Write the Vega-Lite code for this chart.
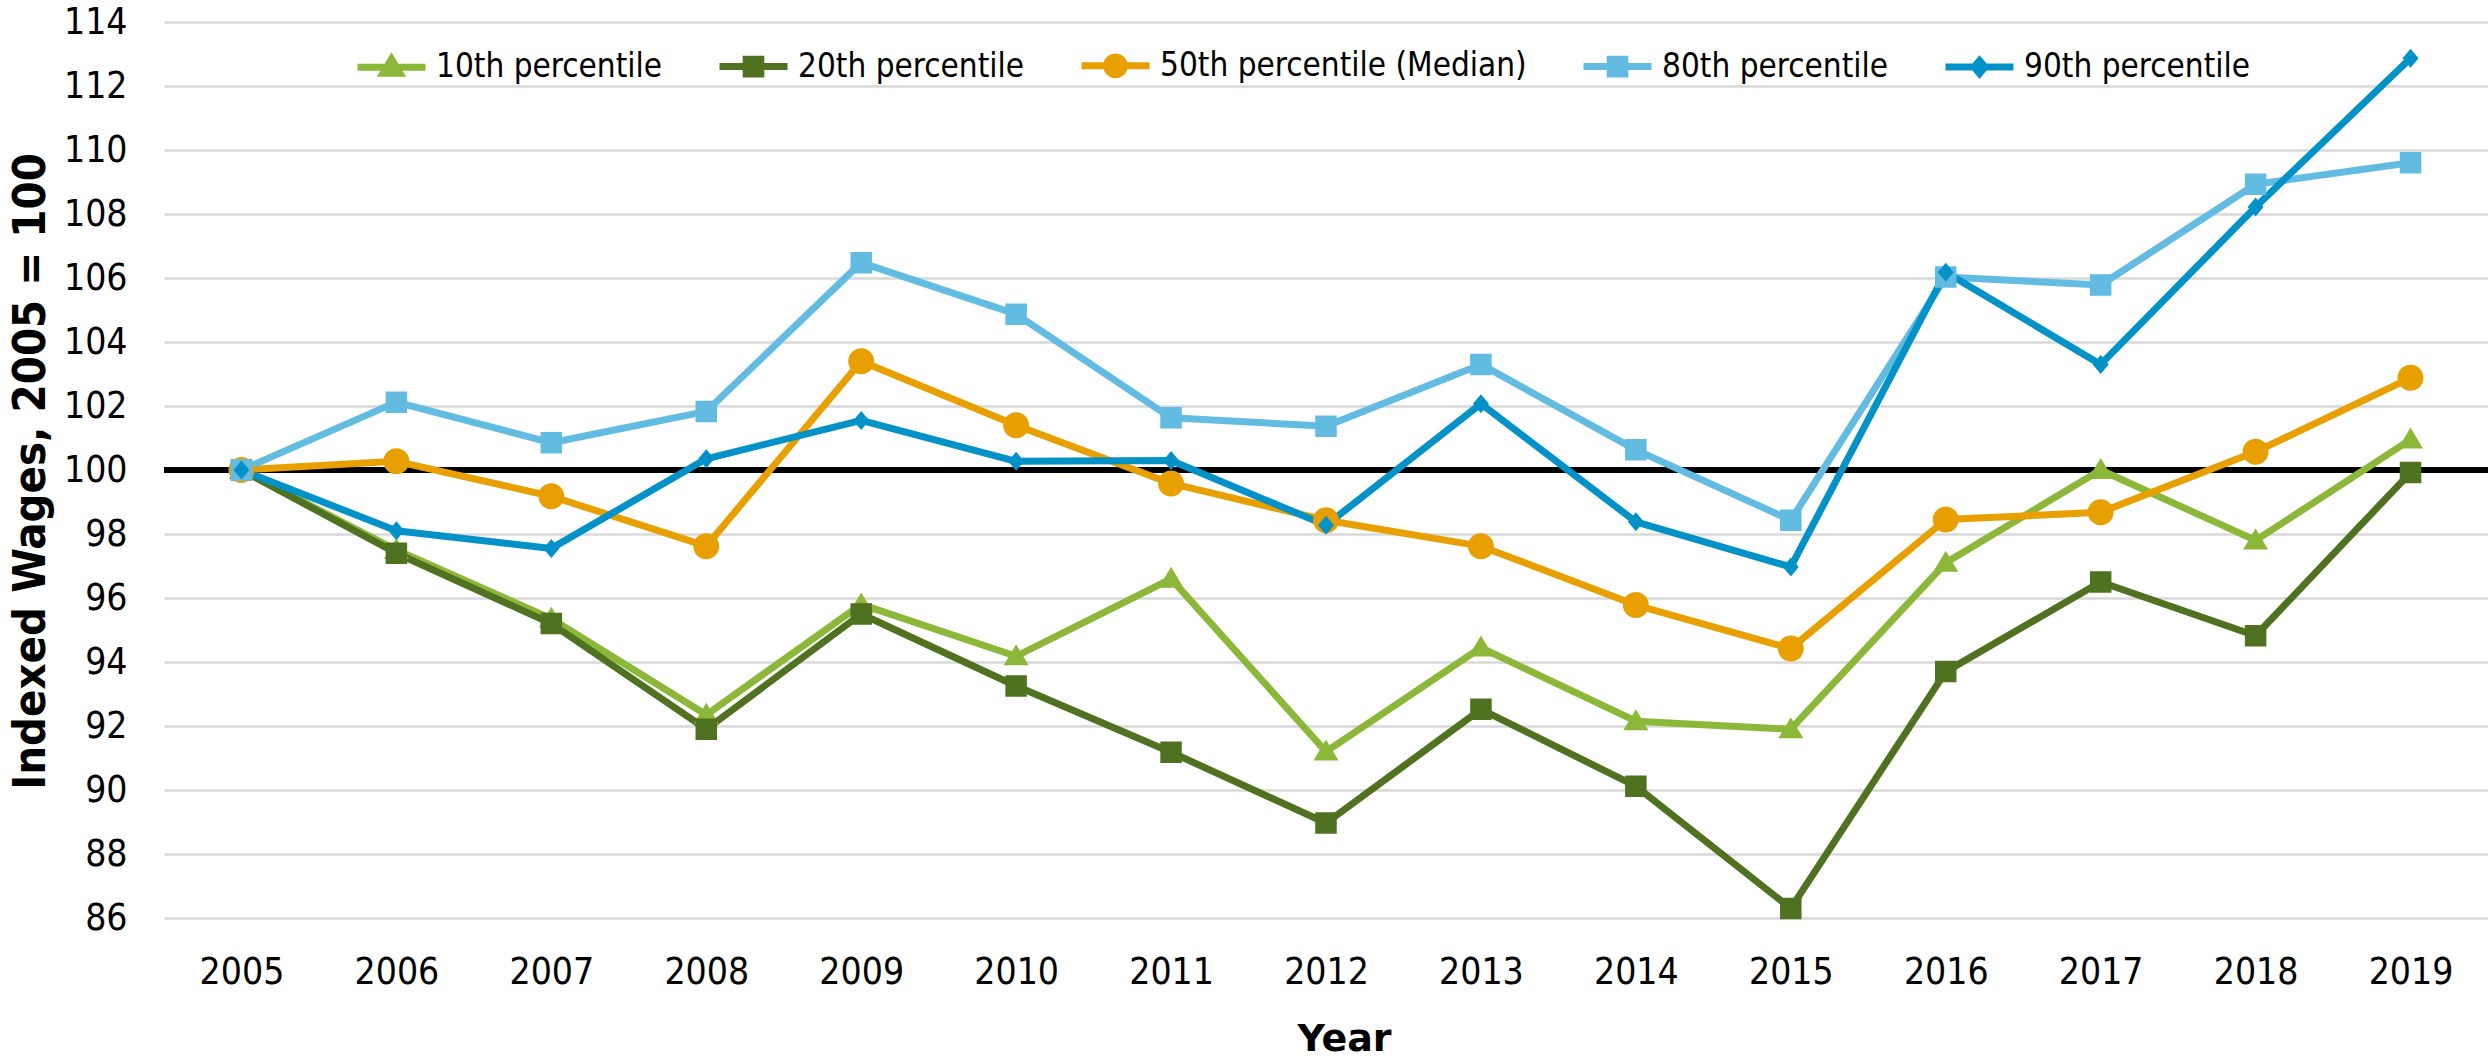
{
  "$schema": "https://vega.github.io/schema/vega-lite/v6.json",
  "autosize": {"type": "none"},
  "width": 2324,
  "height": 896,
  "padding": {"left": 164, "top": 22, "right": 0, "bottom": 143},
  "background": "#ffffff",
  "config": {
    "view": {"stroke": null},
    "font": "DejaVu Sans Condensed",
    "legend": {
      "orient": "none",
      "legendX": 190,
      "legendY": 6,
      "direction": "horizontal",
      "padding": 0,
      "symbolSize": 4624,
      "labelOffset": 7,
      "columnPadding": 42,
      "labelFontSize": 33,
      "labelLimit": 1000,
      "labelColor": "#000000",
      "symbolStrokeWidth": 7
    }
  },
  "data": {
    "values": [
      {"year": 2005, "series": "10th percentile", "value": 100},
      {"year": 2006, "series": "10th percentile", "value": 97.5},
      {"year": 2007, "series": "10th percentile", "value": 95.35},
      {"year": 2008, "series": "10th percentile", "value": 92.35},
      {"year": 2009, "series": "10th percentile", "value": 95.8},
      {"year": 2010, "series": "10th percentile", "value": 94.18},
      {"year": 2011, "series": "10th percentile", "value": 96.6},
      {"year": 2012, "series": "10th percentile", "value": 91.2},
      {"year": 2013, "series": "10th percentile", "value": 94.45},
      {"year": 2014, "series": "10th percentile", "value": 92.15},
      {"year": 2015, "series": "10th percentile", "value": 91.9},
      {"year": 2016, "series": "10th percentile", "value": 97.1},
      {"year": 2017, "series": "10th percentile", "value": 100.0},
      {"year": 2018, "series": "10th percentile", "value": 97.8},
      {"year": 2019, "series": "10th percentile", "value": 100.95},
      {"year": 2005, "series": "20th percentile", "value": 100},
      {"year": 2006, "series": "20th percentile", "value": 97.4},
      {"year": 2007, "series": "20th percentile", "value": 95.2},
      {"year": 2008, "series": "20th percentile", "value": 91.9},
      {"year": 2009, "series": "20th percentile", "value": 95.5},
      {"year": 2010, "series": "20th percentile", "value": 93.25},
      {"year": 2011, "series": "20th percentile", "value": 91.18},
      {"year": 2012, "series": "20th percentile", "value": 88.97},
      {"year": 2013, "series": "20th percentile", "value": 92.52},
      {"year": 2014, "series": "20th percentile", "value": 90.12},
      {"year": 2015, "series": "20th percentile", "value": 86.3},
      {"year": 2016, "series": "20th percentile", "value": 93.7},
      {"year": 2017, "series": "20th percentile", "value": 96.5},
      {"year": 2018, "series": "20th percentile", "value": 94.82},
      {"year": 2019, "series": "20th percentile", "value": 99.92},
      {"year": 2005, "series": "50th percentile (Median)", "value": 100},
      {"year": 2006, "series": "50th percentile (Median)", "value": 100.27},
      {"year": 2007, "series": "50th percentile (Median)", "value": 99.18},
      {"year": 2008, "series": "50th percentile (Median)", "value": 97.62},
      {"year": 2009, "series": "50th percentile (Median)", "value": 103.4},
      {"year": 2010, "series": "50th percentile (Median)", "value": 101.4},
      {"year": 2011, "series": "50th percentile (Median)", "value": 99.58},
      {"year": 2012, "series": "50th percentile (Median)", "value": 98.43},
      {"year": 2013, "series": "50th percentile (Median)", "value": 97.62},
      {"year": 2014, "series": "50th percentile (Median)", "value": 95.78},
      {"year": 2015, "series": "50th percentile (Median)", "value": 94.42},
      {"year": 2016, "series": "50th percentile (Median)", "value": 98.45},
      {"year": 2017, "series": "50th percentile (Median)", "value": 98.68},
      {"year": 2018, "series": "50th percentile (Median)", "value": 100.57},
      {"year": 2019, "series": "50th percentile (Median)", "value": 102.88},
      {"year": 2005, "series": "80th percentile", "value": 100},
      {"year": 2006, "series": "80th percentile", "value": 102.12},
      {"year": 2007, "series": "80th percentile", "value": 100.85},
      {"year": 2008, "series": "80th percentile", "value": 101.83},
      {"year": 2009, "series": "80th percentile", "value": 106.48},
      {"year": 2010, "series": "80th percentile", "value": 104.87},
      {"year": 2011, "series": "80th percentile", "value": 101.63},
      {"year": 2012, "series": "80th percentile", "value": 101.37},
      {"year": 2013, "series": "80th percentile", "value": 103.3},
      {"year": 2014, "series": "80th percentile", "value": 100.63},
      {"year": 2015, "series": "80th percentile", "value": 98.43},
      {"year": 2016, "series": "80th percentile", "value": 106.03},
      {"year": 2017, "series": "80th percentile", "value": 105.78},
      {"year": 2018, "series": "80th percentile", "value": 108.93},
      {"year": 2019, "series": "80th percentile", "value": 109.6},
      {"year": 2005, "series": "90th percentile", "value": 100},
      {"year": 2006, "series": "90th percentile", "value": 98.1},
      {"year": 2007, "series": "90th percentile", "value": 97.55},
      {"year": 2008, "series": "90th percentile", "value": 100.35},
      {"year": 2009, "series": "90th percentile", "value": 101.55},
      {"year": 2010, "series": "90th percentile", "value": 100.27},
      {"year": 2011, "series": "90th percentile", "value": 100.3},
      {"year": 2012, "series": "90th percentile", "value": 98.27},
      {"year": 2013, "series": "90th percentile", "value": 102.07},
      {"year": 2014, "series": "90th percentile", "value": 98.38},
      {"year": 2015, "series": "90th percentile", "value": 96.97},
      {"year": 2016, "series": "90th percentile", "value": 106.18},
      {"year": 2017, "series": "90th percentile", "value": 103.3},
      {"year": 2018, "series": "90th percentile", "value": 108.22},
      {"year": 2019, "series": "90th percentile", "value": 112.87}
    ]
  },
  "encoding": {
    "x": {
      "field": "year",
      "type": "ordinal",
      "scale": {"type": "point", "padding": 0.5},
      "axis": {
        "title": "Year",
        "titleFont": "DejaVu Sans",
        "titleFontSize": 38,
        "titleFontWeight": "bold",
        "titleColor": "#000000",
        "titleX": 1180,
        "titleY": 132,
        "titleBaseline": "alphabetic",
        "labelAngle": 0,
        "labelFontSize": 37,
        "labelColor": "#000000",
        "labelBaseline": "alphabetic",
        "labelPadding": 65,
        "ticks": false,
        "tickSize": 0,
        "domain": false,
        "grid": false
      }
    },
    "y": {
      "field": "value",
      "type": "quantitative",
      "scale": {"domain": [86, 114], "nice": false, "zero": false},
      "axis": {
        "title": "Indexed Wages, 2005 = 100",
        "titleFontSize": 45,
        "titleFontWeight": "bold",
        "titleColor": "#000000",
        "titleX": -134,
        "titleY": 449,
        "titleAlign": "center",
        "titleBaseline": "middle",
        "titleAngle": -90,
        "values": [86, 88, 90, 92, 94, 96, 98, 100, 102, 104, 106, 108, 110, 112, 114],
        "labelFontSize": 37,
        "labelColor": "#000000",
        "labelPadding": 37,
        "ticks": false,
        "tickSize": 0,
        "domain": false,
        "grid": true,
        "gridColor": "#d9d9d9",
        "gridWidth": 2.7
      }
    },
    "color": {
      "field": "series",
      "type": "nominal",
      "title": null,
      "scale": {
        "domain": ["10th percentile", "20th percentile", "50th percentile (Median)", "80th percentile", "90th percentile"],
        "range": ["#8cb83a", "#4f7220", "#e89f00", "#62bce2", "#0392c8"]
      }
    }
  },
  "layer": [
    {
      "mark": {"type": "rule", "color": "#000000", "strokeWidth": 4.5},
      "encoding": {"y": {"datum": 100}, "x": {"value": 0}, "x2": {"value": 2324}, "color": {"value": "#000000"}}
    },
    {
      "mark": {"type": "line", "strokeWidth": 7, "strokeJoin": "round", "strokeCap": "round"},
      "encoding": {}
    },
    {
      "mark": {"type": "point", "filled": true, "opacity": 1, "size": 10000, "strokeWidth": 0},
      "encoding": {
        "shape": {
          "field": "series",
          "type": "nominal",
          "title": null,
          "scale": {
            "domain": ["10th percentile", "20th percentile", "50th percentile (Median)", "80th percentile", "90th percentile"],
            "range": [
              "M-1,0H1M0,-0.24L0.25,0.18H-0.25Z",
              "M-1,0H1M-0.215,-0.215H0.215V0.215H-0.215Z",
              "M-1,0H1M0.26,0A0.26,0.26 0 1,1 -0.26,0A0.26,0.26 0 1,1 0.26,0Z",
              "M-1,0H1M-0.215,-0.215H0.215V0.215H-0.215Z",
              "M-1,0H1M0,-0.19L0.16,0L0,0.19L-0.16,0Z"
            ]
          }
        }
      }
    }
  ]
}
